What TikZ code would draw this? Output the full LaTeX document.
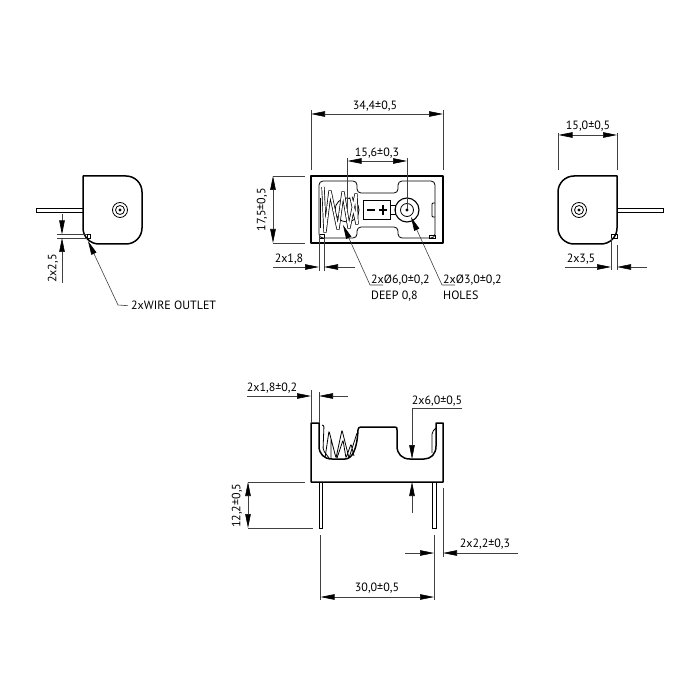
\documentclass[tikz,border=0pt]{standalone}
\usepackage{fontspec}
\setmainfont{PT Sans}
\usetikzlibrary{arrows.meta,positioning}
\tikzset{
  part/.style={draw,line width=1.5pt,line join=round},
  fine/.style={draw,line width=.8pt},
  dimline/.style={draw,line width=.6pt,black!75},
  tip/.style={-{Triangle[length=14pt,width=5.5pt,black]},dimline},
  tips/.style={{Triangle[length=14pt,width=5.5pt,black]}-{Triangle[length=14pt,width=5.5pt,black]},dimline},
  label/.style={font=\fontsize{12}{13}\selectfont,inner sep=0pt,yshift=-.7pt}
}
\begin{document}
\begin{tikzpicture}[x=1pt,y=-1pt]
  \useasboundingbox (0,0) rectangle (700,700);
  % left side view
  \draw[part,rounded corners=16pt] (83,176) -- (142,176) -- (142,244) -- (83,244) [sharp corners] -- cycle;
  \draw[fine] (83,208) -- (36,208) -- (36,212) -- (83,212);
  \draw[fine] (87,234.5) rectangle (90,238);
  \draw[dimline] (57,234.5) -- (87,234.5) (57,238) -- (87,238);
  % right side view
  \draw[part,rounded corners=16pt] (617,176) -- (558,176) -- (558,244) -- (617,244) [sharp corners] -- cycle;
  \draw[fine] (617,208) -- (663,208) -- (663,212) -- (617,212);
  \draw[fine] (611,234) rectangle (617,238);
  \foreach \cx in {120,579} {
    \draw[fine] (\cx,210) circle (7.5pt) circle (4.5pt);
    \draw[fine] (\cx,210) circle (1pt);
  }
  % top view
  \draw[part] (311,176) rectangle (443,243);
  \draw[fine,rounded corners=4pt] (319,181) -- (357,181) -- (357,193) -- (398,193) -- (398,181)
    -- (435,181) -- (435,238) -- (398,238) -- (398,227) -- (357,227) -- (357,238) -- (319,238) -- cycle;
  \draw[fine] (319,234) rectangle (324,238);
  \draw[fine] (429,235) rectangle (435,238);
  \draw[fine,rounded corners=1pt] (435,203) -- (432,203) -- (432,217) -- (435,217);
  \draw[line width=1.6pt] (320.5,198) -- (320.5,228);
  \draw[fine] (347,210) circle (12pt);
  \draw[line width=.7pt,double=white,double distance=1.8pt,rounded corners=1pt]
    (323,187) -- (325,232) -- (330,191) -- (338,229) -- (343,192) -- (349,228) -- (356,194) -- (357,224) -- (351,197);
  \draw[fine] (363,200) rectangle (390,219);
  \draw[fine] (390,205) rectangle (395,214);
  \draw[line width=1.1pt] (367,210) -- (375,210) (379,210) -- (387,210) (383,205) -- (383,215);
  \draw[line width=1.1pt] (407,210) circle (12pt);
  \draw[fine] (407,210) circle (6.5pt) circle (1pt);
  % front view
  \draw[part] (319,423) -- (319,446) .. controls (319,454) and (324,459) .. (332,459) -- (345,459)
    .. controls (352,459) and (357,450) .. (358,430) .. controls (358,428) and (359,427) .. (361,427)
    -- (395,427) .. controls (397,427) and (397,428) .. (397,430) -- (397,446)
    .. controls (397,454) and (402,459) .. (410,459) -- (424,459) .. controls (431,459) and (436,454) .. (436,446)
    -- (436,423) -- (443,423) -- (443,482) -- (311,482) -- (311,423) -- cycle;
  \draw[fine,rounded corners=2pt] (322,425) -- (324,425) -- (323,450) -- (329,458);
  \draw[fine,rounded corners=1pt] (325,458) -- (329,431) -- (336,458) -- (342,430) -- (349,458) -- (357,433)
    (331,458) -- (331,438) (337,458) -- (343,440) -- (346,458) -- (351,444) -- (354,456);
  \draw[fine,rounded corners=2pt] (436,428) -- (432,432) -- (432,453);
  \draw[fine] (319,482) rectangle (322.5,528);
  \draw[fine] (432,482) rectangle (436,528);
  % dimensions top view
  \draw[dimline] (311,110) -- (311,170) (443,110) -- (443,170);
  \draw[tips] (311,114) -- (443,114);
  \node[label] (widthtext) at (375,105) {34,4±0,5};
  \draw[dimline] (347.5,158) -- (347.5,209) (407,158) -- (407,209);
  \draw[tips] (347.5,161) -- (407,161);
  \node[label] (pitchtext) at (377,152) {15,6±0,3};
  \draw[dimline] (273,176) -- (305,176) (273,243) -- (305,243);
  \draw[tips] (273,176) -- (273,243);
  \node[label,rotate=90] (depthtext) at (262,209) {17,5±0,5};
  \draw[dimline] (319,234) -- (319,271) (324,238) -- (324,271);
  \draw[tip] (273,267) -- (319,267);
  \draw[tip] (355,267) -- (324,267);
  \node[label] (walltext) at (289,258) {2x1,8};
  % leaders top view
  \node[label,anchor=west] (recesstext) at (371,279) {2xØ6,0±0,2};
  \node[label,below=4.5pt of recesstext.south west,anchor=north west] (deeptext) {DEEP 0,8};
  \node[label,anchor=west] (holetext) at (443,279) {2xØ3,0±0,2};
  \node[label,below=4.5pt of holetext.south west,anchor=north west] (holestext) {HOLES};
  \draw[tip] (383,285) -- (370,285) -- (343,225);
  \draw[tip] (455,285) -- (442,285) -- (411,217);
  % dimensions left view
  \draw[tip] (62,214) -- (62,234.5);
  \draw[tip] (62,283) -- (62,238);
  \node[label,rotate=90] (wiretext) at (53,268) {2x2,5};
  \node[label,anchor=west] (outlettext) at (131,305) {2xWIRE OUTLET};
  \draw[tip] (outlettext.west) ++(-3,0) -- (118,305) -- (88,241);
  % dimensions right view
  \draw[dimline] (558.5,133) -- (558.5,170) (617,133) -- (617,170);
  \draw[tips] (558.5,135) -- (617,135);
  \node[label] (sidetext) at (588,125) {15,0±0,5};
  \draw[dimline] (611,238) -- (611,270) (617,245) -- (617,270);
  \draw[tip] (565,267) -- (611,267);
  \draw[tip] (647,267) -- (617,267);
  \node[label] (inlettext) at (581,258) {2x3,5};
  % dimensions front view
  \draw[dimline] (311,390) -- (311,423) (319,392) -- (319,423);
  \draw[tip] (247,396) -- (311,396);
  \draw[tip] (348,396) -- (319,396);
  \node[label] (edgetext) at (272,387) {2x1,8±0,2};
  \draw[tip] (462,408) -- (412,408) -- (412,459);
  \draw[tip] (412,513) -- (412,482);
  \node[label] (slottext) at (437,400) {2x6,0±0,5};
  \draw[dimline] (248,482) -- (305,482) (248,528) -- (313,528);
  \draw[tips] (248,482) -- (248,528);
  \node[label,rotate=90] (pintext) at (237,505) {12,2±0,5};
  \draw[dimline] (320.5,535) -- (320.5,600) (434,535) -- (434,600);
  \draw[tips] (320.5,597) -- (434,597);
  \node[label] (spantext) at (377,587) {30,0±0,5};
  \draw[dimline] (443,488) -- (443,557);
  \draw[tip] (405,553) -- (434,553);
  \draw[tip] (518,553) -- (443,553);
  \node[label] (offsettext) at (485,543) {2x2,2±0,3};
\end{tikzpicture}
\end{document}
